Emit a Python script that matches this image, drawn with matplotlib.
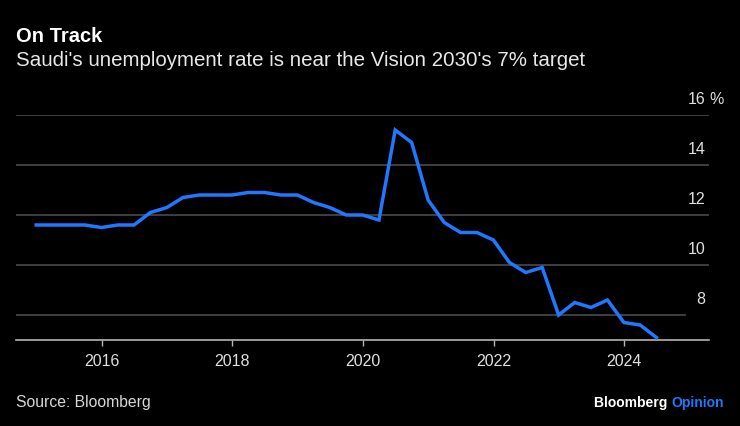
import numpy as np
import pandas as pd
import matplotlib
matplotlib.use("Agg")
import matplotlib.pyplot as plt
import matplotlib.dates as mdates

# Saudi unemployment rate (Saudi nationals), quarterly, plotted at quarter end
dates = pd.date_range("2014-12-31", periods=39, freq="QE")
rate = [11.6, 11.6, 11.6, 11.6, 11.5, 11.6, 11.6, 12.1, 12.3, 12.7,
        12.8, 12.8, 12.8, 12.9, 12.9, 12.8, 12.8, 12.5, 12.3, 12.0,
        12.0, 11.8, 15.4, 14.9, 12.6, 11.7, 11.3, 11.3, 11.0, 10.1,
        9.7, 9.9, 8.0, 8.5, 8.3, 8.6, 7.7, 7.6, 7.1]

y_ticks = [8, 10, 12, 14, 16]
title = "On Track"
subtitle = "Saudi's unemployment rate is near the Vision 2030's 7% target"
source = "Source: Bloomberg"

BLUE = "#1f78ff"
W, H = 740, 426

plt.rcParams["font.family"] = ["Liberation Sans", "DejaVu Sans"]

fig = plt.figure(figsize=(W / 100, H / 100), dpi=100, facecolor="black")
ax = fig.add_axes([16 / W, 1 - 340 / H, (709 - 16) / W, (340 - 115) / H])
ax.set_facecolor("black")

# gridlines (the 8 line is cut short, as in the original)
for v in y_ticks:
    xmax = 0.966 if v == 8 else 1.0
    ax.axhline(v, xmin=0, xmax=xmax, color="#4a4a4a", lw=1.2, zorder=1)
    ax.annotate(str(v), xy=(1, v), xycoords=ax.get_yaxis_transform(),
                xytext=(-2.5, 11), textcoords="offset points",
                ha="right", va="center", color="#e0e0e0", fontsize=11.5)
ax.annotate("%", xy=(1, 16), xycoords=ax.get_yaxis_transform(),
            xytext=(0.5, 11), textcoords="offset points",
            ha="left", va="center", color="#e0e0e0", fontsize=11.5)

ax.plot(dates, rate, color=BLUE, lw=2.5, solid_joinstyle="miter", zorder=3)

ax.set_ylim(7, 16)
ax.set_xlim(pd.Timestamp("2014-09-09"), pd.Timestamp("2025-04-20"))
ax.set_yticks([])
for s in ["top", "right", "left"]:
    ax.spines[s].set_visible(False)
ax.spines["bottom"].set_color("#b5b5b5")
ax.spines["bottom"].set_linewidth(1.2)

ax.xaxis.set_major_locator(mdates.YearLocator(2))
ax.xaxis.set_major_formatter(mdates.DateFormatter("%Y"))
ax.tick_params(axis="x", colors="#b5b5b5", length=4, width=1, pad=6,
               labelcolor="#e0e0e0", labelsize=11.5)

fig.text(16 / W, 1 - 36 / H, title, color="white", fontsize=14.5,
         fontweight="bold", va="center", ha="left")
fig.text(16 / W, 1 - 60 / H, subtitle, color="#e8e8e8", fontsize=14.8,
         va="center", ha="left")
fig.text(16 / W, 1 - 403 / H, source, color="#d8d8d8", fontsize=11.3,
         va="center", ha="left")

op = fig.text(724 / W, 1 - 403 / H, "Opinion", color=BLUE, fontsize=10,
              fontweight="bold", va="center", ha="right")
ax.annotate("Bloomberg ", xy=(0, 0.5), xycoords=op, color="white",
            fontsize=10, fontweight="bold", va="center", ha="right")

fig.savefig("out.png", dpi=100, facecolor="black")
